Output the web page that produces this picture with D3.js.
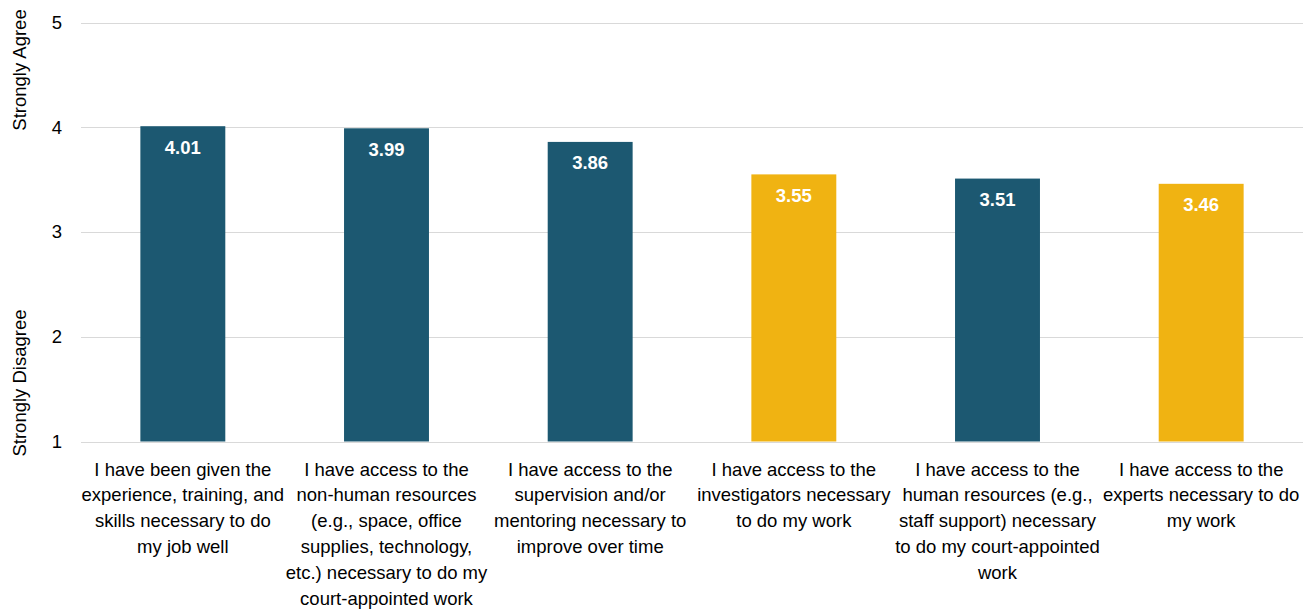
<!DOCTYPE html>
<html>
<head>
<meta charset="utf-8">
<script src="https://cdn.jsdelivr.net/npm/d3@7"></script>
<style>
  html, body { margin: 0; padding: 0; background: #ffffff; }
  svg { display: block; }
  text { font-family: "Liberation Sans Narrow", "Arial Narrow", "Liberation Sans", Arial, sans-serif; }
</style>
</head>
<body>
<svg id="chart" width="1315" height="610"></svg>
<script>
// Survey items (line breaks mark where each label wraps)
const categories = [
  "I have been given the\nexperience, training, and\nskills necessary to do\nmy job well",
  "I have access to the\nnon-human resources\n(e.g., space, office\nsupplies, technology,\netc.) necessary to do my\ncourt-appointed work",
  "I have access to the\nsupervision and/or\nmentoring necessary to\nimprove over time",
  "I have access to the\ninvestigators necessary\nto do my work",
  "I have access to the\nhuman resources (e.g.,\nstaff support) necessary\nto do my court-appointed\nwork",
  "I have access to the\nexperts necessary to do\nmy work"
];
// Mean agreement score (1 = Strongly Disagree, 5 = Strongly Agree)
const meanScores = [4.01, 3.99, 3.86, 3.55, 3.51, 3.46];
// Items flagged for attention
const flagged = [false, false, false, true, false, true];
const yTicks = [1, 2, 3, 4, 5];

const COLOR_BASE = "#1c5871";
const COLOR_FLAG = "#f0b312";

const svg = d3.select("#chart");
const margin = { left: 81, right: 12, top: 22, bottom: 168 };
const width = 1315, height = 610;

const x = d3.scaleBand()
  .domain(d3.range(categories.length))
  .range([margin.left, width - margin.right])
  .paddingInner(0.583)
  .paddingOuter(0.2915);

const y = d3.scaleLinear()
  .domain([1, 5])
  .range([441.5, 22.5]);

// Horizontal gridlines
svg.append("g")
  .selectAll("line")
  .data(yTicks)
  .join("line")
  .attr("x1", margin.left)
  .attr("x2", width - margin.right)
  .attr("y1", d => Math.round(y(d)) + 0.5)
  .attr("y2", d => Math.round(y(d)) + 0.5)
  .attr("stroke", "#d9d9d9")
  .attr("stroke-width", 1);

// Y axis tick labels
const yAxis = d3.axisLeft(y).tickValues(yTicks).tickSize(0).tickPadding(0).tickFormat(d3.format("d"));
const gy = svg.append("g")
  .attr("transform", `translate(62,0)`)
  .call(yAxis);
gy.select(".domain").remove();
gy.selectAll("text")
  .attr("font-size", "18.5px")
  .attr("fill", "#000")
  .style("font-family", '"Liberation Sans Narrow", "Arial Narrow", "Liberation Sans", Arial, sans-serif');

// Scale anchor titles
svg.append("text")
  .attr("transform", `translate(26,70) rotate(-90)`)
  .attr("text-anchor", "middle")
  .attr("font-size", "18.5px")
  .attr("fill", "#000")
  .text("Strongly Agree");
svg.append("text")
  .attr("transform", `translate(26,383) rotate(-90)`)
  .attr("text-anchor", "middle")
  .attr("font-size", "18.5px")
  .attr("fill", "#000")
  .text("Strongly Disagree");

// Bars
svg.append("g")
  .selectAll("rect")
  .data(meanScores)
  .join("rect")
  .attr("x", (d, i) => x(i))
  .attr("width", x.bandwidth())
  .attr("y", d => y(d))
  .attr("height", d => y(1) - y(d))
  .attr("fill", (d, i) => flagged[i] ? COLOR_FLAG : COLOR_BASE);

// Value labels inside bars
svg.append("g")
  .selectAll("text")
  .data(meanScores)
  .join("text")
  .attr("x", (d, i) => x(i) + x.bandwidth() / 2)
  .attr("y", d => y(d) + 27.5)
  .attr("text-anchor", "middle")
  .attr("font-size", "18.5px")
  .attr("font-weight", "bold")
  .attr("fill", "#ffffff")
  .text(d => d3.format(".2f")(d));

// Category labels below the axis
const catG = svg.append("g");
categories.forEach((c, i) => {
  const t = catG.append("text")
    .attr("text-anchor", "middle")
    .attr("font-size", "18.5px")
    .attr("fill", "#000");
  c.split("\n").forEach((line, j) => {
    t.append("tspan")
      .attr("x", x(i) + x.bandwidth() / 2)
      .attr("y", 475.5 + j * 25.8)
      .text(line);
  });
});
</script>
</body>
</html>
